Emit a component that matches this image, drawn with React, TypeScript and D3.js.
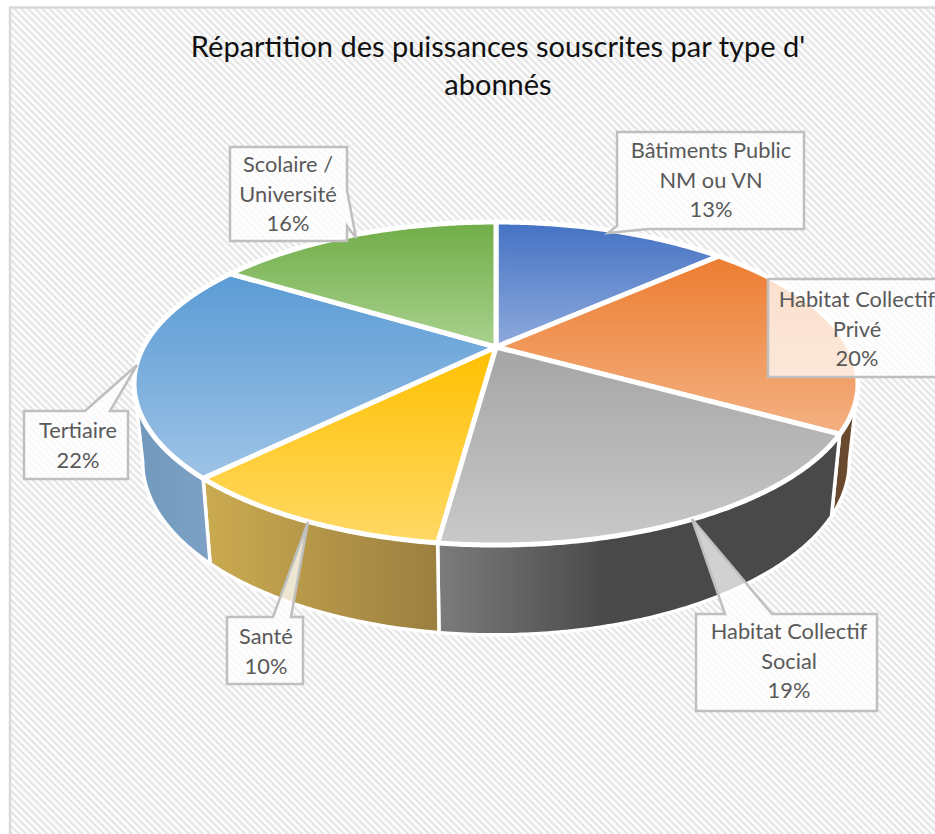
import React from "react";
import * as d3 from "d3";

const titleLines = ["Répartition des puissances souscrites par type d'", "abonnés"];
const categories = ["Bâtiments Public NM ou VN", "Habitat Collectif Privé", "Habitat Collectif Social", "Santé", "Tertiaire", "Scolaire / Université"];
const values = [13, 20.4, 18.65, 10.2, 21.75, 16];
const topStart = ["#4472c4", "#ed7d31", "#a5a5a5", "#ffc000", "#5b9bd5", "#70ad47"];
const topEnd = ["#8faadc", "#f4b183", "#c9c9c9", "#ffd966", "#9dc3e6", "#a9d18e"];
const wallStart = ["#2f528f", "#6a4a2f", "#7c7c7c", "#cbab50", "#7099bc", "#4e7a32"];
const wallEnd = ["#2f528f", "#6a4a2f", "#494949", "#9b7f40", "#7da1c4", "#4e7a32"];

const labelLines = [["Bâtiments Public", "NM ou VN", "13%"], ["Habitat Collectif", "Privé", "20%"], ["Habitat Collectif", "Social", "19%"], ["Santé", "10%"], ["Tertiaire", "22%"], ["Scolaire /", "Université", "16%"]];
const labelBoxes = [
  { l: 617, r: 804, t: 132, b: 229, cx: 711, base: 158 },
  { l: 768, r: 960, t: 279, b: 377, cx: 857, base: 307 },
  { l: 696, r: 877, t: 614, b: 711, cx: 789, base: 639 },
  { l: 227, r: 303, t: 617, b: 684, cx: 266, base: 644 },
  { l: 24, r: 128, t: 411, b: 479, cx: 78, base: 438 },
  { l: 230, r: 347, t: 147, b: 241, cx: 288, base: 172 },
];
// Callout outlines: box corners with a spike inserted
const calloutSpikes: ([number, number][] | null)[] = [
  [[648, 229], [608, 233], [617, 226]],
  null,
  [[772, 614], [692, 519], [725, 614]],
  [[291, 617], [308, 522], [273, 617]],
  [[110, 411], [137, 365], [85, 411]],
  [[347, 190], [356, 238], [347, 226]],
];
const spikeSides = ["bottom", "", "top", "top", "top", "right"];

const W = 935, H = 834;
const cx = 496, cy = 347, a = 352.6, b = 153.25, p = 0.226;
const bottomScaleX = 0.976, bottomScaleY = 1.07, bottomY = 423;

const project = (t: number): [number, number] => {
  const X = Math.sin(t), Y = -Math.cos(t);
  const d = 1 - p * Y;
  return [cx + (a * X) / d, cy + (b * Y) / d];
};
const projectBottom = (t: number): [number, number] => {
  const [x, y] = project(t);
  return [cx + bottomScaleX * (x - cx), bottomY + bottomScaleY * (y - cy)];
};
const samples = (t0: number, t1: number) => {
  const n = Math.max(2, Math.ceil(Math.abs(t1 - t0) / 0.01));
  return d3.range(n + 1).map((i) => t0 + ((t1 - t0) * i) / n);
};
const line = d3.line<[number, number]>().x((d) => d[0]).y((d) => d[1]);
const rad = (deg: number) => (deg * Math.PI) / 180;
const visStart = rad(103), visEnd = rad(257);

const arcs = d3.pie<number>().sort(null).value((d) => d)(values);

function boxPath(i: number) {
  const { l, r, t, b: bt } = labelBoxes[i];
  const s = calloutSpikes[i] ?? [];
  const side = spikeSides[i];
  const pts: [number, number][] = [[l, t]];
  if (side === "top") {
    [...s].reverse().forEach((q) => pts.push(q));
  }
  pts.push([r, t]);
  if (side === "right") s.forEach((q) => pts.push(q));
  pts.push([r, bt]);
  if (side === "bottom") s.forEach((q) => pts.push(q));
  if (side !== "bottom") pts.push([l, bt]);
  return line(pts) + "Z";
}

const textFont = "Lato, 'Open Sans', sans-serif";

export default function App() {
  return (
    <svg width={W} height={H} style={{ position: "absolute", left: 0, top: 0, display: "block" }}>
      <defs>
        <pattern id="hatch" width="5" height="5" patternUnits="userSpaceOnUse" patternTransform="rotate(45)">
          <rect width="5" height="5" fill="#ffffff" />
          <rect width="5" height="2.5" fill="#e6e6e6" />
        </pattern>
        {values.map((_, i) => (
          <linearGradient key={i} id={`top${i}`} x1="0" y1="0" x2="0" y2="1">
            <stop offset="0" stopColor={topStart[i]} />
            <stop offset="1" stopColor={topEnd[i]} />
          </linearGradient>
        ))}
        {values.map((_, i) => (
          <linearGradient key={i} id={`wall${i}`} x1="0" y1="0" x2="1" y2="0">
            <stop offset="0" stopColor={wallStart[i]} />
            <stop offset={i === 2 ? 0.42 : 1} stopColor={wallEnd[i]} />
            <stop offset="1" stopColor={wallEnd[i]} />
          </linearGradient>
        ))}
      </defs>
      <rect width={W} height={H} fill="#ffffff" />
      <rect x={10} y={7.5} width={W + 20} height={H + 20} fill="url(#hatch)" stroke="#d9d9d9" strokeWidth={2.5} />
      <g fontFamily={textFont} fontSize={29} fill="#111111" textAnchor="middle">
        {titleLines.map((t, i) => (
          <text key={i} x={498} y={57 + i * 38}>{t}</text>
        ))}
      </g>
      <g>
        {arcs.map((d, i) => {
          const t0 = Math.max(d.startAngle, visStart);
          const t1 = Math.min(d.endAngle, visEnd);
          if (t1 <= t0) return null;
          const pts = [...samples(t0, t1).map(project), ...samples(t1, t0).map(projectBottom)];
          return <path key={i} d={line(pts) + "Z"} fill={`url(#wall${i})`} stroke="#ffffff" strokeWidth={3.5} strokeLinejoin="round" />;
        })}
      </g>
      <g>
        {arcs.map((d, i) => {
          const pts: [number, number][] = [[cx, cy], ...samples(d.startAngle, d.endAngle).map(project)];
          return <path key={i} d={line(pts) + "Z"} fill={`url(#top${i})`} stroke="#ffffff" strokeWidth={5} strokeLinejoin="round" />;
        })}
      </g>
      <g>
        {categories.map((c, i) => {
          const box = labelBoxes[i];
          return (
            <g key={c}>
              <path d={boxPath(i)} fill="#ffffff" fillOpacity={0.75} stroke="#bfbfbf" strokeWidth={2.5} />
              <g fontFamily={textFont} fontSize={21.8} fill="#595959" textAnchor="middle">
                {labelLines[i].map((t, j) => (
                  <text key={j} x={box.cx} y={box.base + j * 29.7}>{t}</text>
                ))}
              </g>
            </g>
          );
        })}
      </g>
    </svg>
  );
}
